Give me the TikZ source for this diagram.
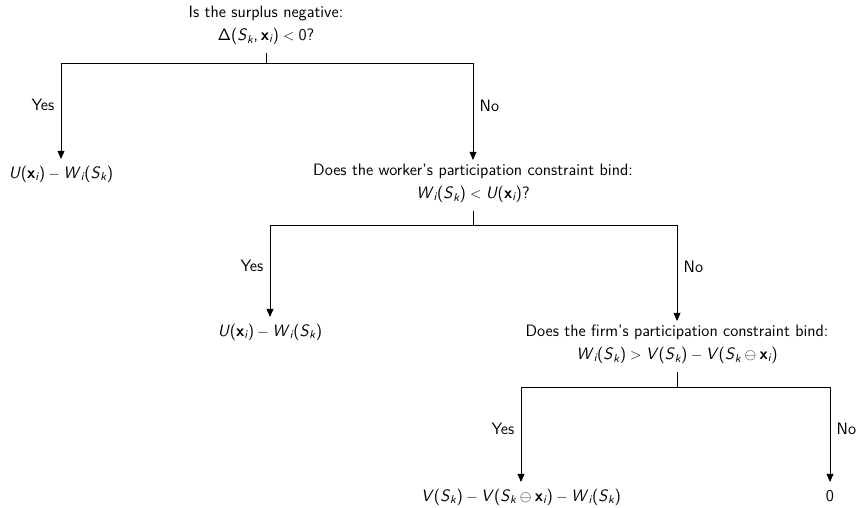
\documentclass[tikz,border=0pt]{standalone}
\usepackage{amstext}
\usetikzlibrary{arrows.meta}
\newcommand\V[1]{\textsl{#1}}
\newcommand\sub[1]{$_{\textsl{#1}}$}
\newcommand\bx{\textbf{x}}
\newcommand\op[1]{${}#1{}$}
\begin{document}
\begin{tikzpicture}[x=0.8pt,y=-0.8pt,
  every node/.style={font=\fontsize{13.2}{18.2}\selectfont\sffamily},
  q/.style={align=center, inner xsep=2pt, inner ysep=3pt, anchor=north},
  leaf/.style={inner xsep=2pt, inner ysep=7.5pt, text height=0.75em, text depth=0.25em, anchor=north},
  stub/.style={line width=0.7pt, shorten <=3.5pt},
  arr/.style={line width=0.7pt, -{Triangle[length=6.5pt,width=5.5pt]}},
  yes/.style={left, inner sep=5pt, pos=0.72},
  no/.style={right, inner sep=5pt, pos=0.72}
]
\useasboundingbox (0,0) rectangle (858,507);

\node[q] (q1) at (266,2) {Is the surplus negative:\\ Δ(\V{S}\sub{k},\,\bx\sub{i})\op{<}0?};
\node[leaf] (l1) at (61,159) {\V{U}(\bx\sub{i})\op{-}\V{W}\sub{i}(\V{S}\sub{k})};
\node[q] (q2) at (473,160) {Does the worker's participation constraint bind:\\ \V{W}\sub{i}(\V{S}\sub{k})\op{<}\V{U}(\bx\sub{i})?};
\node[leaf] (l2) at (270,317) {\V{U}(\bx\sub{i})\op{-}\V{W}\sub{i}(\V{S}\sub{k})};
\node[q] (q3) at (677,321) {Does the firm's participation constraint bind:\\ \V{W}\sub{i}(\V{S}\sub{k})\op{>}\V{V}(\V{S}\sub{k})\op{-}\V{V}(\V{S}\sub{k}\op{\ominus}\bx\sub{i})};
\node[leaf] (l3) at (521,482) {\V{V}(\V{S}\sub{k})\op{-}\V{V}(\V{S}\sub{k}\op{\ominus}\bx\sub{i})\op{-}\V{W}\sub{i}(\V{S}\sub{k})};
\node[leaf] (l4) at (830,482) {0};

\coordinate (b1) at (266,63);
\coordinate (b2) at (473,225);
\coordinate (b3) at (677,387);

\draw[stub] (q1.south) -- (b1);
\draw[arr] (b1) -| (l1.north) node[yes] {Yes};
\draw[arr] (b1) -| (q2.north) node[no] {No};

\draw[stub] (q2.south) -- (b2);
\draw[arr] (b2) -| (l2.north) node[yes] {Yes};
\draw[arr] (b2) -| (q3.north) node[no] {No};

\draw[stub] (q3.south) -- (b3);
\draw[arr] (b3) -| (l3.north) node[yes] {Yes};
\draw[arr] (b3) -| (l4.north) node[no] {No};
\end{tikzpicture}
\end{document}
